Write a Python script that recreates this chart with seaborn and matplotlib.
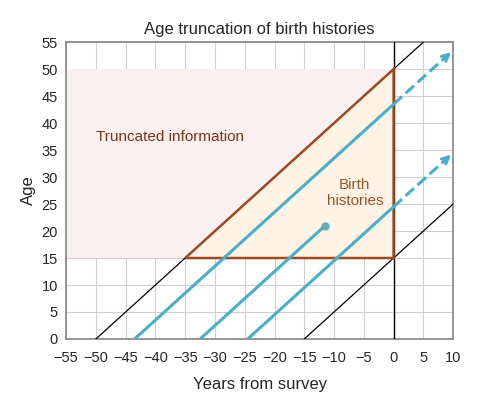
import matplotlib
matplotlib.use('Agg')
import matplotlib.pyplot as plt
import seaborn as sns
import pandas as pd
from matplotlib.patches import Polygon, Rectangle

sns.set_theme(style='white')
plt.rcParams['font.family'] = ['Liberation Sans', 'DejaVu Sans']

# black cohort reference lines (x start, x end, offset)
black_x = [[-50, 5], [-15, 10]]
black_off = [50, 15]
# blue cohort lines: solid start/end and dashed end
blue_start = [-43.5, -32.5, -24.5]
blue_solid_end = [0, -11.5, 0]
blue_dash_end = [10, None, 10]
xticks = list(range(-55, 11, 5))
yticks = list(range(0, 56, 5))

fig = plt.figure(figsize=(4.79, 4.05), dpi=100)
ax = fig.add_axes([0.138, 0.163, 0.808, 0.733])
ax.set_xlim(-55, 10)
ax.set_ylim(0, 55)
ax.set_xticks(xticks)
ax.set_yticks(yticks)
ax.grid(True, color='#d0d0d0', lw=0.8)
ax.set_axisbelow(True)

ax.add_patch(Rectangle((-55, 15), 55, 35, facecolor='#fbf0f0', edgecolor='none', zorder=1))
ax.add_patch(Polygon([(-35, 15), (0, 15), (0, 50)], closed=True, facecolor='#fef3e4',
                     edgecolor='none', zorder=2))

for xs, off in zip(black_x, black_off):
    df = pd.DataFrame({'x': xs, 'y': [v + off for v in xs]})
    sns.lineplot(data=df, x='x', y='y', color='black', lw=0.9, ax=ax, zorder=3)
ax.axvline(0, color='black', lw=1.0, zorder=3)
ax.add_patch(Polygon([(-35, 15), (0, 15), (0, 50)], closed=True, facecolor='none',
                     edgecolor='#9e4a22', lw=1.8, zorder=3.5))

blue = '#4aaec8'
for x0, x1, x2 in zip(blue_start, blue_solid_end, blue_dash_end):
    c = -x0
    df = pd.DataFrame({'x': [x0, x1], 'y': [0, x1 + c]})
    sns.lineplot(data=df, x='x', y='y', color=blue, lw=2.2, ax=ax, zorder=4)
    if x2 is None:
        ax.plot([x1], [x1 + c], 'o', color='#6aaab8', ms=5, zorder=5)
    else:
        ax.plot([x1, x2 - 1], [x1 + c, x2 - 1 + c], '--', color=blue, lw=2.2, zorder=4)
        ax.annotate('', xy=(x2, x2 + c), xytext=(x2 - 1.5, x2 - 1.5 + c),
                    arrowprops=dict(arrowstyle='->', color=blue, lw=2.2), zorder=4)

ax.text(-37.5, 37.5, 'Truncated information', color='#7a3418', fontsize=11, ha='center', va='center')
ax.text(-6.5, 27, 'Birth\nhistories', color='#a0522d', fontsize=11, ha='center', va='center')

ax.set_xlabel('Years from survey', fontsize=12, labelpad=8)
ax.set_ylabel('Age', fontsize=12)
ax.set_title('Age truncation of birth histories', fontsize=12)
ax.tick_params(labelsize=10.5, length=0)
ax.tick_params(axis='x', pad=9)
ax.tick_params(axis='y', pad=6)
for s in ax.spines.values():
    s.set_color('#888888')
fig.savefig('out.png', dpi=100)
